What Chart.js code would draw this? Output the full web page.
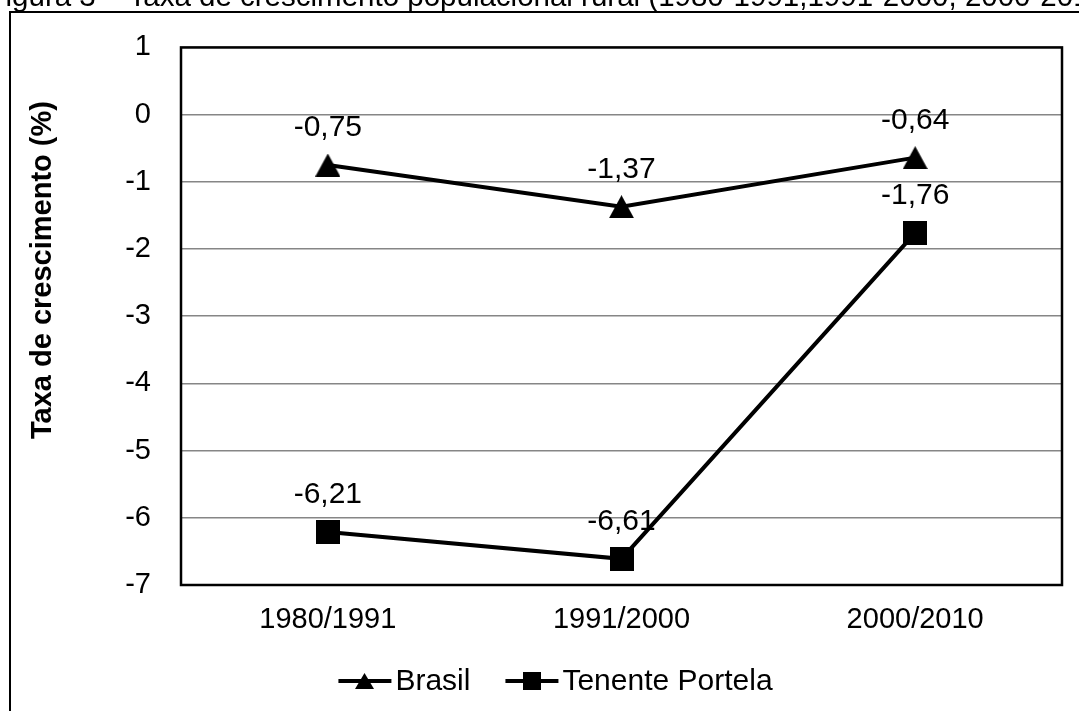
<!DOCTYPE html>
<html>
<head>
<meta charset="utf-8">
<script src="https://cdn.jsdelivr.net/npm/chart.js@4.4.0/dist/chart.umd.min.js"></script>
<style>
  html, body { margin: 0; padding: 0; background: #fff; overflow: hidden; }
  canvas { display: block; }
</style>
</head>
<body>
<canvas id="chart" width="1079" height="711"></canvas>
<script>
// Rural population growth rate per intercensal period (%)
const periods = ['1980/1991', '1991/2000', '2000/2010'];
const brasil = [-0.75, -1.37, -0.64];
const tenentePortela = [-6.21, -6.61, -1.76];
const seriesNames = ['Brasil', 'Tenente Portela'];
const yTicks = [1, 0, -1, -2, -3, -4, -5, -6, -7];
const captionText = 'Figura 3 – Taxa de crescimento populacional rural (1980-1991,1991-2000, 2000-2010)';
const yAxisTitle = 'Taxa de crescimento (%)';

const FONT = "'Liberation Sans', Arial, sans-serif";
Chart.defaults.font.family = FONT;
Chart.defaults.color = '#000';

// Solid black marker sprites (triangle / square)
function markerSprite(shape, w, h) {
  const c = document.createElement('canvas');
  c.width = w; c.height = h;
  const g = c.getContext('2d');
  g.fillStyle = '#000';
  if (shape === 'triangle') {
    g.beginPath();
    g.moveTo(w / 2, 0);
    g.lineTo(w, h);
    g.lineTo(0, h);
    g.closePath();
    g.fill();
  } else {
    g.fillRect(0, 0, w, h);
  }
  return c;
}

const pointMarkers = [markerSprite('triangle', 25, 23), markerSprite('square', 24, 24)];
const legendMarkers = [markerSprite('triangle', 19, 16), markerSprite('square', 18, 18)];

const fmt = v => v.toFixed(2).replace('.', ',');

// Outer frame, caption line above it and the vertical axis title
const framePlugin = {
  id: 'frame',
  beforeDraw(chart) {
    const ctx = chart.ctx;
    ctx.save();
    ctx.fillStyle = '#fff';
    ctx.fillRect(0, 0, chart.width, chart.height);
    ctx.strokeStyle = '#000';
    ctx.lineWidth = 2;
    ctx.strokeRect(10, 12, 1089, 800);
    ctx.fillStyle = '#000';
    ctx.font = '29.5px ' + FONT;
    ctx.textBaseline = 'alphabetic';
    ctx.textAlign = 'left';
    ctx.fillText(captionText, -12.5, 6);
    ctx.translate(43, 270);
    ctx.rotate(-Math.PI / 2);
    ctx.font = 'bold 29px ' + FONT;
    ctx.textAlign = 'center';
    ctx.textBaseline = 'middle';
    ctx.fillText(yAxisTitle, 0, 0);
    ctx.restore();
  }
};

// Black border round the plot area, drawn over the gridlines
const plotBorderPlugin = {
  id: 'plotBorder',
  beforeDatasetsDraw(chart) {
    const { left, top, right, bottom } = chart.chartArea;
    const ctx = chart.ctx;
    ctx.save();
    ctx.strokeStyle = '#000';
    ctx.lineWidth = 2.5;
    ctx.strokeRect(left, top, right - left, bottom - top);
    ctx.restore();
  }
};

// Value labels above each point
const valueLabelPlugin = {
  id: 'valueLabels',
  afterDatasetsDraw(chart) {
    const ctx = chart.ctx;
    ctx.save();
    ctx.font = '30px ' + FONT;
    ctx.fillStyle = '#000';
    ctx.textAlign = 'center';
    ctx.textBaseline = 'middle';
    chart.data.datasets.forEach((ds, i) => {
      chart.getDatasetMeta(i).data.forEach((pt, j) => {
        ctx.fillText(fmt(ds.data[j]), pt.x, pt.y - 37);
      });
    });
    ctx.restore();
  }
};

// Line-and-marker legend centred under the frame
const legendPlugin = {
  id: 'lineLegend',
  afterDraw(chart) {
    const ctx = chart.ctx;
    const lineLen = 53, gap = 4, itemGap = 35, y = 681;
    ctx.save();
    ctx.font = '30px ' + FONT;
    const widths = chart.data.datasets.map(ds => lineLen + gap + ctx.measureText(ds.label).width);
    const total = widths.reduce((a, b) => a + b, 0) + itemGap * (widths.length - 1);
    let x = 10 + 1089 / 2 - total / 2 + 1;
    chart.data.datasets.forEach((ds, i) => {
      ctx.strokeStyle = '#000';
      ctx.lineWidth = 4;
      ctx.beginPath();
      ctx.moveTo(x, y);
      ctx.lineTo(x + lineLen, y);
      ctx.stroke();
      const m = legendMarkers[i];
      ctx.drawImage(m, Math.round(x + lineLen / 2 - m.width / 2), Math.round(y - m.height / 2));
      ctx.fillStyle = '#000';
      ctx.textAlign = 'left';
      ctx.textBaseline = 'middle';
      ctx.fillText(ds.label, x + lineLen + gap, y + 1);
      x += widths[i] + itemGap;
    });
    ctx.restore();
  }
};

new Chart(document.getElementById('chart'), {
  type: 'line',
  data: {
    labels: periods,
    datasets: [
      {
        label: seriesNames[0],
        data: brasil,
        borderColor: '#000',
        borderWidth: 4,
        pointStyle: pointMarkers[0],
        pointRadius: 12,
        tension: 0
      },
      {
        label: seriesNames[1],
        data: tenentePortela,
        borderColor: '#000',
        borderWidth: 4,
        pointStyle: pointMarkers[1],
        pointRadius: 12,
        tension: 0
      }
    ]
  },
  options: {
    responsive: false,
    animation: false,
    devicePixelRatio: 1,
    layout: { padding: { top: 43, right: 17, left: 0, bottom: 0 } },
    plugins: {
      legend: { display: false },
      tooltip: { enabled: false }
    },
    scales: {
      x: {
        offset: true,
        grid: { display: false, drawTicks: false },
        border: { display: false },
        ticks: { color: '#000', font: { size: 29 }, padding: 18, maxRotation: 0 },
        afterFit: s => { s.height = 126; }
      },
      y: {
        min: -7,
        max: 1,
        afterBuildTicks: s => { s.ticks = yTicks.map(v => ({ value: v })); },
        ticks: { color: '#000', font: { size: 29 }, padding: 30, callback: v => String(v) },
        grid: { color: '#868686', lineWidth: 1.5, drawTicks: false },
        border: { display: false },
        afterFit: s => { s.width = 181; }
      }
    }
  },
  plugins: [framePlugin, plotBorderPlugin, valueLabelPlugin, legendPlugin]
});
</script>
</body>
</html>
